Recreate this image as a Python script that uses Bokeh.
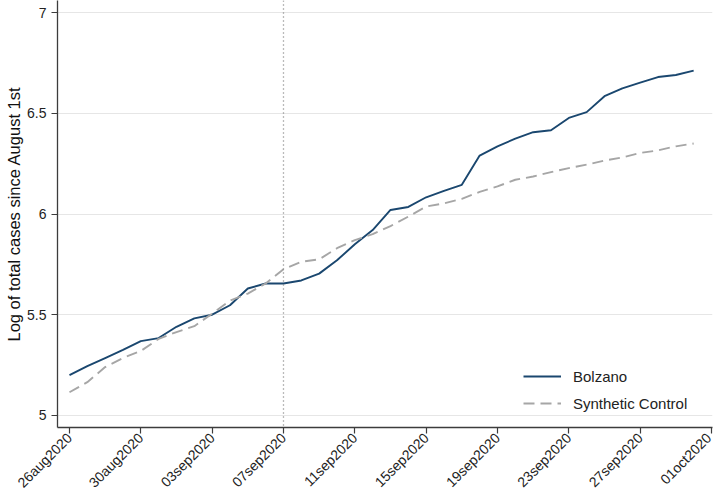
import math
import pandas as pd
from bokeh.plotting import figure
from bokeh.models import Span, FixedTicker, Range1d, Legend, LegendItem
from bokeh.embed import file_html
from bokeh.resources import INLINE

start_date = "2020-08-26"
bolzano = [5.200, 5.245, 5.285, 5.325, 5.369, 5.384, 5.440, 5.482, 5.500, 5.547,
           5.630, 5.655, 5.655, 5.670, 5.704, 5.770, 5.850, 5.920, 6.020, 6.035,
           6.083, 6.115, 6.145, 6.290, 6.336, 6.374, 6.406, 6.416, 6.477, 6.506,
           6.585, 6.624, 6.652, 6.680, 6.690, 6.712]
synthetic = [5.115, 5.165, 5.240, 5.285, 5.320, 5.380, 5.414, 5.443, 5.505, 5.570,
             5.605, 5.655, 5.726, 5.763, 5.775, 5.830, 5.870, 5.900, 5.940, 5.987,
             6.037, 6.053, 6.075, 6.110, 6.137, 6.170, 6.186, 6.208, 6.228, 6.245,
             6.265, 6.281, 6.303, 6.316, 6.336, 6.350]
x_tick_labels = ["26aug2020", "30aug2020", "03sep2020", "07sep2020", "11sep2020",
                 "15sep2020", "19sep2020", "23sep2020", "27sep2020", "01oct2020"]
y_ticks = [5, 5.5, 6, 6.5, 7]
y_tick_labels = ["5", "5.5", "6", "6.5", "7"]
treatment_date = "07sep2020"
series_names = ["Bolzano", "Synthetic Control"]

t0 = pd.Timestamp(start_date)
days = list(range(len(bolzano)))
x_ticks = [(pd.to_datetime(s, format="%d%b%Y") - t0).days for s in x_tick_labels]
treat_x = (pd.to_datetime(treatment_date, format="%d%b%Y") - t0).days

FONT = "Liberation Sans"

p = figure(width=714, height=499, output_backend="svg", toolbar_location=None,
           x_range=Range1d(-0.672, 36.056), y_range=Range1d(4.940, 7.060),
           min_border_left=57, min_border_right=2, min_border_top=0, min_border_bottom=60)
p.outline_line_color = None
p.background_fill_color = "white"
p.border_fill_color = "white"

# grid
p.xgrid.grid_line_color = None
p.ygrid.grid_line_color = "#e6e6e6"
p.ygrid.grid_line_width = 1
p.yaxis.ticker = FixedTicker(ticks=y_ticks)
p.xaxis.ticker = FixedTicker(ticks=x_ticks)
p.xaxis.major_label_overrides = {x: lab for x, lab in zip(x_ticks, x_tick_labels)}
p.yaxis.major_label_overrides = {y: lab for y, lab in zip(y_ticks, y_tick_labels)}

for ax in (p.xaxis[0], p.yaxis[0]):
    ax.axis_line_color = "#3c3c3c"
    ax.axis_line_width = 1.3
    ax.major_tick_line_color = "#3c3c3c"
    ax.major_tick_line_width = 1.2
    ax.major_tick_out = 6
    ax.major_tick_in = 0
    ax.minor_tick_line_color = None
    ax.major_label_text_font = FONT
    ax.major_label_text_font_size = "14px"
    ax.major_label_text_color = "#222222"
    ax.major_label_standoff = 5

p.xaxis.major_label_orientation = math.pi / 4
p.xaxis.major_label_standoff = 2
p.yaxis.major_label_orientation = "horizontal"
p.yaxis.axis_label = "Log of total cases since August 1st"
p.yaxis.axis_label_text_font = FONT
p.yaxis.axis_label_text_font_size = "16.5px"
p.yaxis.axis_label_text_font_style = "normal"
p.yaxis.axis_label_text_color = "#111111"
p.yaxis.axis_label_standoff = 1

# treatment line
p.add_layout(Span(location=treat_x, dimension="height", line_color="#777777",
                  line_width=1.3, line_dash="1 3"))

r1 = p.line(days, bolzano, line_color="#1a476f", line_width=1.9)
r2 = p.line(days, synthetic, line_color="#a6a6a6", line_width=1.9, line_dash="11 6")

legend = Legend(items=[LegendItem(label=series_names[0], renderers=[r1]),
                       LegendItem(label=series_names[1], renderers=[r2])],
                location=(466, 14))
legend.border_line_color = None
legend.background_fill_alpha = 0
legend.padding = 0
legend.margin = 0
legend.spacing = 7
legend.glyph_width = 38
legend.glyph_height = 20
legend.label_standoff = 12
legend.label_text_font = FONT
legend.label_text_font_size = "15px"
legend.label_text_color = "#222222"
p.add_layout(legend, "center")

open("out.html", "w").write(file_html(p, INLINE))
